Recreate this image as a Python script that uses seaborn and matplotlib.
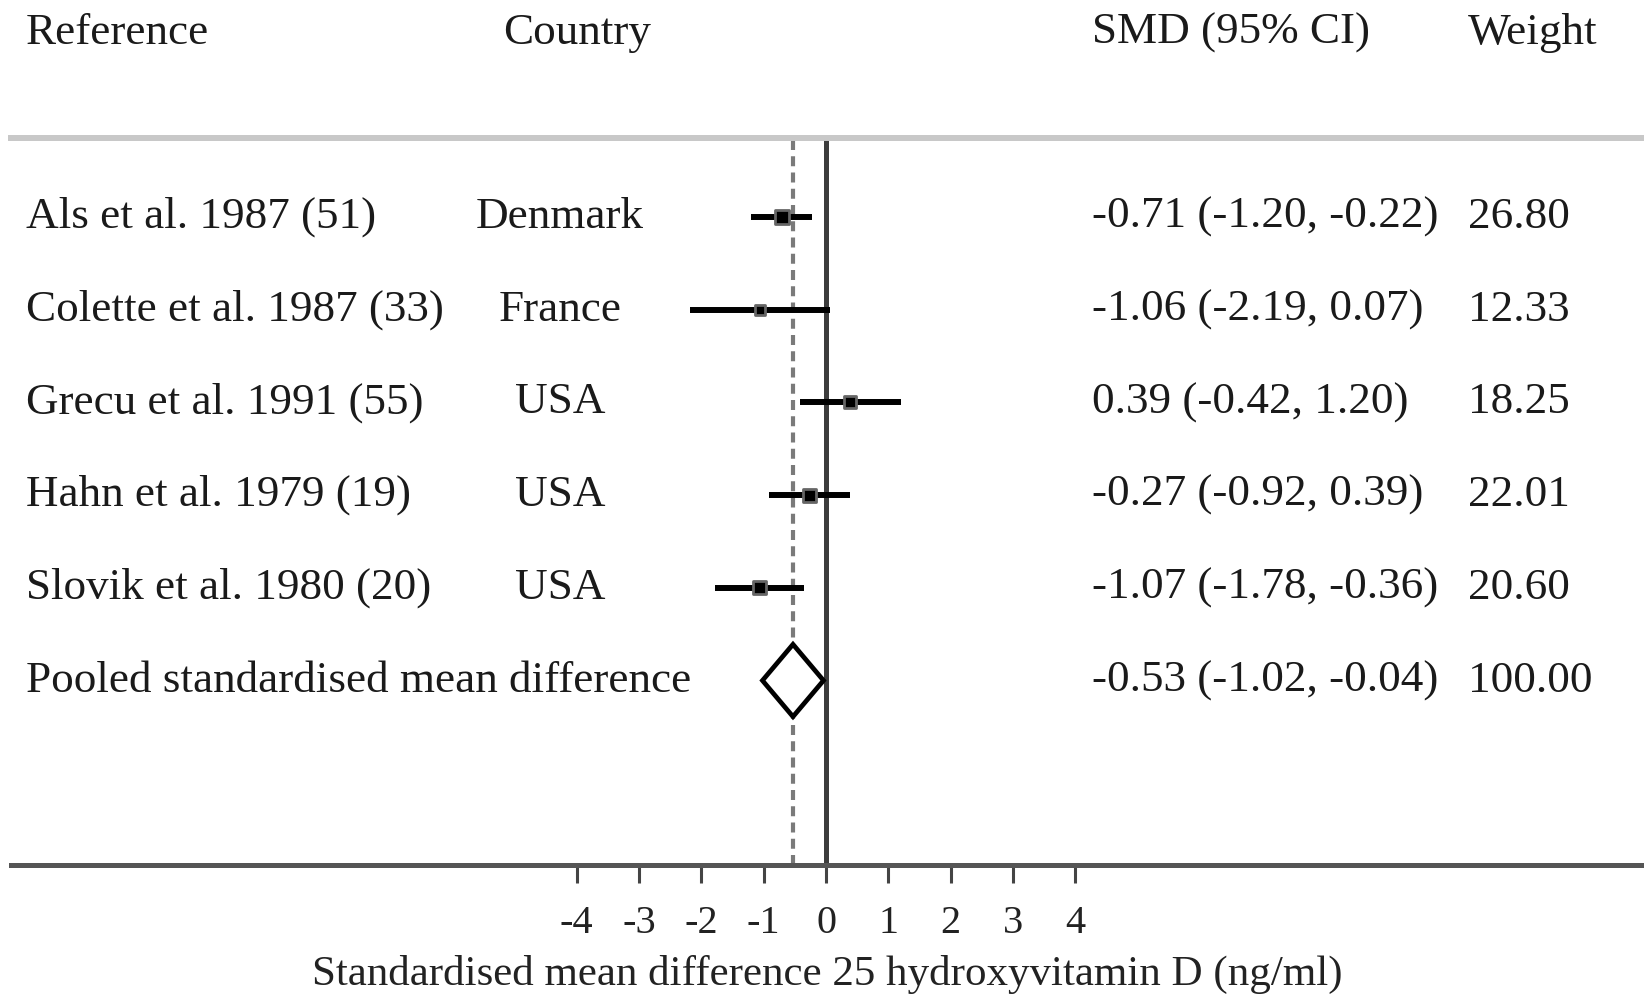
import numpy as np
import pandas as pd
import matplotlib
matplotlib.use("Agg")
import matplotlib.pyplot as plt
import matplotlib.transforms as mtransforms
from matplotlib.patches import Polygon
import seaborn as sns

# dados do forest plot
references = ["Als et al. 1987 (51)", "Colette et al. 1987 (33)", "Grecu et al. 1991 (55)",
              "Hahn et al. 1979 (19)", "Slovik et al. 1980 (20)"]
countries = ["Denmark", "France", "USA", "USA", "USA"]
smd = [-0.71, -1.06, 0.39, -0.27, -1.07]
ci_low = [-1.20, -2.19, -0.42, -0.92, -1.78]
ci_high = [-0.22, 0.07, 1.20, 0.39, -0.36]
weights = [26.80, 12.33, 18.25, 22.01, 20.60]

pooled_label = "Pooled standardised mean difference"
pooled_smd = -0.53
pooled_low = -1.02
pooled_high = -0.04
pooled_weight = 100.00

x_ticks = [-4, -3, -2, -1, 0, 1, 2, 3, 4]
x_label = "Standardised mean difference 25 hydroxyvitamin D (ng/ml)"
headers = ["Reference", "Country", "SMD (95% CI)", "Weight"]

df = pd.DataFrame({"ref": references, "country": countries, "smd": smd,
                   "lo": ci_low, "hi": ci_high, "w": weights})
df["row"] = np.arange(len(df))
pooled_row = len(df)

sns.set_theme(style="white")
plt.rcParams["font.family"] = ["Liberation Serif", "DejaVu Serif"]

W, H = 1644, 996
fig = plt.figure(figsize=(W / 100, H / 100), dpi=100)

# eixo principal: topo = linha cinza, base = eixo x
ax_left, ax_top, ax_bottom = 10.5, 138, 865
ax = fig.add_axes([ax_left / W, 1 - ax_bottom / H, 1 - ax_left / W, (ax_bottom - ax_top) / H])

px_unit = 62.3
zero_px = 826
row0_px, row_step = 217, 92.7
ax.set_xlim((ax_left - zero_px) / px_unit, (W - zero_px) / px_unit)
ax.set_ylim((ax_bottom - row0_px) / row_step, (ax_top - row0_px) / row_step)

# linhas de referencia
ax.axvline(0, color="#3c3c3c", lw=3.6, zorder=1)
ax.axvline(pooled_smd, color="#7a7a7a", lw=3.0, linestyle=(0, (2.4, 1.5)), zorder=1)

# intervalos de confianca
ax.hlines(df["row"], df["lo"], df["hi"], color="black", lw=4.3, zorder=3)
sns.scatterplot(data=df, x="smd", y="row", marker="s", color="black",
                s=[w * 4.0 for w in weights], edgecolor="#666666", linewidth=2.0,
                ax=ax, zorder=4, legend=False)

# diamante do resultado combinado
half_h = 0.39
diamond = Polygon([(pooled_low, pooled_row), (pooled_smd, pooled_row - half_h),
                   (pooled_high, pooled_row), (pooled_smd, pooled_row + half_h)],
                  closed=True, facecolor="white", edgecolor="black", lw=3.4, zorder=5)
ax.add_patch(diamond)

# eixos
for side in ["left", "right"]:
    ax.spines[side].set_visible(False)
ax.spines["top"].set_color("#c8c8c8")
ax.spines["top"].set_linewidth(4.3)
ax.spines["bottom"].set_color("#555555")
ax.spines["bottom"].set_linewidth(3.6)
ax.set_yticks([])
ax.set_xticks(x_ticks)
ax.set_xticklabels([str(t) for t in x_ticks])
ax.tick_params(axis="x", direction="out", length=13, width=2.2, color="#444444",
               pad=16, labelsize=29, labelcolor="#222222", bottom=True)
ax.set_xlabel(x_label, fontsize=31, color="#222222", labelpad=9)
ax.set_ylabel("")

# textos das colunas
tr = mtransforms.blended_transform_factory(fig.transFigure, ax.transData)
fs = 32.5
tc = "#1a1a1a"
header_row = (33 - row0_px) / row_step
col_ref, col_country_h, col_country, col_smd, col_w = 26 / W, 503 / W, 560 / W, 1092 / W, 1468 / W
ax.text(col_ref, header_row, headers[0], transform=tr, fontsize=fs, color=tc, va="center", clip_on=False)
ax.text(col_country_h, header_row, headers[1], transform=tr, fontsize=fs, color=tc, va="center", clip_on=False)
ax.text(col_smd, header_row, headers[2], transform=tr, fontsize=fs, color=tc, va="center", clip_on=False)
ax.text(col_w, header_row, headers[3], transform=tr, fontsize=fs, color=tc, va="center", clip_on=False)

for _, r in df.iterrows():
    ax.text(col_ref, r["row"], r["ref"], transform=tr, fontsize=fs, color=tc, va="center")
    ax.text(col_country, r["row"], r["country"], transform=tr, fontsize=fs, color=tc,
            va="center", ha="center")
    ax.text(col_smd, r["row"], "{:.2f} ({:.2f}, {:.2f})".format(r["smd"], r["lo"], r["hi"]),
            transform=tr, fontsize=fs, color=tc, va="center")
    ax.text(col_w, r["row"], "{:.2f}".format(r["w"]), transform=tr, fontsize=fs, color=tc, va="center")

ax.text(col_ref, pooled_row, pooled_label, transform=tr, fontsize=fs, color=tc, va="center")
ax.text(col_smd, pooled_row, "{:.2f} ({:.2f}, {:.2f})".format(pooled_smd, pooled_low, pooled_high),
        transform=tr, fontsize=fs, color=tc, va="center")
ax.text(col_w, pooled_row, "{:.2f}".format(pooled_weight), transform=tr, fontsize=fs, color=tc, va="center")

fig.savefig("out.png", dpi=100)
